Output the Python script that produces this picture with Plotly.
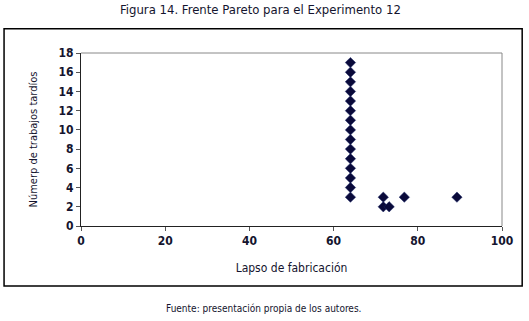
import plotly.graph_objects as go

lapso = [64]*15 + [71.8, 71.8, 73.2, 76.8, 89.3]
tardios = list(range(3, 18)) + [3, 2, 2, 3, 3]
x_ticks = [0, 20, 40, 60, 80, 100]
y_ticks = list(range(0, 19, 2))

FONT = "DejaVu Sans Condensed, Liberation Sans Narrow, sans-serif"
TXT = "#14142e"

fig = go.Figure()
fig.add_trace(go.Scatter(
    x=lapso, y=tardios, mode="markers",
    marker=dict(symbol="diamond", size=8, color="#0a0a3a",
                line=dict(width=0.5, color="#1c2a6a")),
    showlegend=False, hoverinfo="x+y"))

L, R, T, B = 81, 529 - 502.3, 53.3, 321 - 226
pw, ph = 529 - L - R, 321 - T - B

def px(x):
    return (x - L) / pw

def py(y):
    return (321 - B - y) / ph

fig.update_layout(
    width=529, height=321,
    margin=dict(l=L, r=R, t=T, b=B),
    paper_bgcolor="white", plot_bgcolor="white",
    font=dict(family=FONT, color=TXT, size=12),
    xaxis=dict(range=[0, 100], tickvals=x_ticks, showgrid=False, zeroline=False,
               showline=True, linecolor="#222222", linewidth=1,
               ticks="outside", ticklen=4, tickcolor="#555555",
               tickfont=dict(size=12, family=FONT, color=TXT, weight="bold"),
               title=dict(text="Lapso de fabricación", standoff=16,
                          font=dict(size=12, family=FONT, color=TXT))),
    yaxis=dict(range=[0, 18], tickvals=y_ticks, showgrid=False, zeroline=False,
               showline=True, linecolor="#222222", linewidth=1,
               ticks="outside", ticklen=4, tickcolor="#555555",
               tickfont=dict(size=12, family=FONT, color=TXT, weight="bold"),
               title=dict(text="Númerp de trabajos tardíos", standoff=18,
                          font=dict(size=11, family=FONT, color=TXT))),
    shapes=[
        dict(type="rect", xref="paper", yref="paper",
             x0=px(4), x1=px(522.5), y0=py(286), y1=py(29),
             line=dict(color="black", width=1.5), fillcolor="rgba(0,0,0,0)", layer="below"),
        dict(type="line", xref="paper", yref="paper", x0=0, x1=1, y0=1, y1=1,
             line=dict(color="#888888", width=1)),
        dict(type="line", xref="paper", yref="paper", x0=1, x1=1, y0=0, y1=1,
             line=dict(color="#888888", width=1)),
    ],
    annotations=[
        dict(text="Figura 14. Frente Pareto para el Experimento 12", xref="paper", yref="paper",
             x=px(261), y=py(10), showarrow=False, xanchor="center", yanchor="middle",
             font=dict(size=13, family=FONT, color=TXT)),
        dict(text="Fuente: presentación propia de los autores.", xref="paper", yref="paper",
             x=px(264), y=py(308), showarrow=False, xanchor="center", yanchor="middle",
             font=dict(size=10, family=FONT, color=TXT)),
    ],
)

fig.write_html("out.html", config={"displayModeBar": False},
               post_script="document.body.style.margin='0';document.body.style.padding='0';")
